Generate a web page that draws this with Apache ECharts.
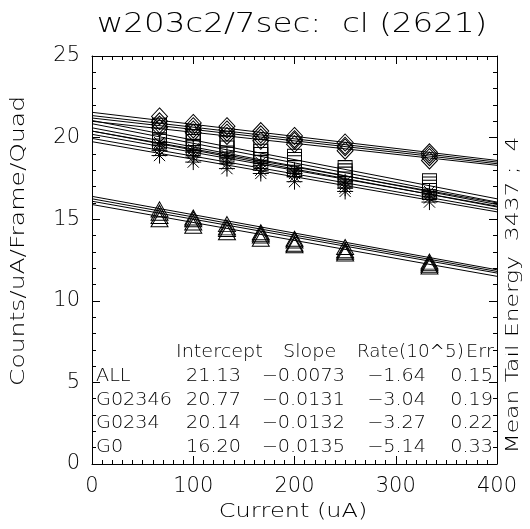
<!DOCTYPE html>
<html><head><meta charset="utf-8">
<script src="https://cdn.jsdelivr.net/npm/echarts@6/dist/echarts.min.js"></script>
<style>html,body{margin:0;padding:0;background:#fff}#c{width:530px;height:529px}</style>
</head><body><div id="c"></div>
<script>
// ---- data ----
const currents = [66.7, 100, 133.3, 166.7, 200, 250, 333.3];
const fitX = [0, 400];

const diamondVals = [
  [21.3, 20.9, 20.7, 20.4, 20.1, 19.7, 19.1],
  [21.0, 20.7, 20.5, 20.2, 19.9, 19.5, 18.95],
  [20.8, 20.5, 20.3, 20.0, 19.8, 19.4, 18.8],
  [20.6, 20.3, 20.1, 19.8, 19.6, 19.2, 18.6]
];
const diamondFits = [[21.55, 18.6], [21.35, 18.5], [21.2, 18.4], [21.0, 18.3]];

const squareVals = [
  [20.7, 20.3, 19.9, 19.4, 18.8, 18.1, 17.3],
  [20.4, 20.0, 19.6, 19.1, 18.6, 17.9, 17.1],
  [20.1, 19.7, 19.3, 18.9, 18.4, 17.7, 16.9],
  [19.8, 19.4, 19.0, 18.6, 18.1, 17.4, 16.7]
];
const squareFits = [[21.05, 16.25], [20.85, 16.05], [20.6, 15.9], [20.4, 15.75]];

const starVals = [
  [19.7, 19.3, 18.9, 18.5, 18.0, 17.3, 16.7],
  [19.5, 19.1, 18.7, 18.3, 17.8, 17.1, 16.5],
  [19.2, 18.8, 18.4, 18.0, 17.6, 16.9, 16.3],
  [18.9, 18.5, 18.1, 17.8, 17.3, 16.7, 16.05]
];
const starFits = [[20.4, 16.0], [20.2, 15.8], [19.95, 15.6], [19.75, 15.45]];

const triVals = [
  [15.6, 15.1, 14.7, 14.2, 13.8, 13.3, 12.4],
  [15.4, 15.0, 14.5, 14.1, 13.7, 13.1, 12.3],
  [15.2, 14.8, 14.4, 14.0, 13.5, 13.0, 12.2],
  [15.0, 14.6, 14.2, 13.8, 13.4, 12.9, 12.1]
];
const triFits = [[16.4, 11.9], [16.25, 11.8], [16.1, 11.7], [15.9, 11.5]];

const xTicks = [0, 100, 200, 300, 400];
const yTicks = [0, 5, 10, 15, 20, 25];

const tableHeader = ['Intercept', 'Slope', 'Rate(10^5)', 'Err'];
const rowNames = ['ALL', 'G02346', 'G0234', 'G0'];
const intercepts = ['21.13', '20.77', '20.14', '16.20'];
const slopes = ['\u22120.0073', '\u22120.0131', '\u22120.0132', '\u22120.0135'];
const rates = ['\u22121.64', '\u22123.04', '\u22123.27', '\u22125.14'];
const errs = ['0.15', '0.19', '0.22', '0.33'];

const titleText = 'w203c2/7sec:  cl (2621)';
const xName = 'Current (uA)';
const yName = 'Counts/uA/Frame/Quad';
const rightText = 'Mean Tail Energy  3437 ;  4';

// ---- chart ----
const FONT = 'DejaVu Sans';
const W = '300';
const G = {left: 92, top: 56, width: 405, height: 408};
const starPath = 'path://M0,-10L0,10M-10,0L10,0M-7,-7L7,7M-7,7L7,-7';

const series = [];
function addGroup(vals, fits, symbol, size) {
  vals.forEach((v, i) => {
    series.push({
      type: 'line', data: currents.map((x, k) => [x, v[k]]),
      lineStyle: {width: 0, opacity: 0}, symbol: symbol, symbolSize: size,
      showSymbol: true, silent: true, animation: false, clip: false,
      itemStyle: {color: 'rgba(0,0,0,0)', borderColor: '#000', borderWidth: 1}
    });
    series.push({
      type: 'line', data: fitX.map((x, k) => [x, fits[i][k]]),
      showSymbol: false, symbol: 'none', silent: true, animation: false,
      lineStyle: {color: '#000', width: 1}
    });
  });
}
addGroup(diamondVals, diamondFits, 'diamond', [16, 17]);
addGroup(squareVals, squareFits, 'rect', [14, 16]);
addGroup(starVals, starFits, starPath, [16, 16]);
addGroup(triVals, triFits, 'triangle', [17, 15]);

function axisStyle(o, minorSplit) {
  return Object.assign({
    axisLine: {onZero: false, lineStyle: {color: '#000', width: 1}},
    splitLine: {show: false},
    axisTick: {inside: true, length: 8, lineStyle: {color: '#000'}},
    minorTick: {show: true, splitNumber: minorSplit, length: 4, lineStyle: {color: '#000'}}
  }, o);
}

function txt(text, x, y, size, sx, extra) {
  return {type: 'text', x: x, y: y, scaleX: sx, silent: true, z: 100,
    style: Object.assign({text: text, font: W + ' ' + size + 'px "' + FONT + '"', fill: '#000', verticalAlign: 'middle'}, extra || {})};
}

const graphics = [];
graphics.push(txt(titleText, 292, 25, 26, 1.25, {align: 'center'}));
graphics.push(txt(xName, 293, 512, 20, 1.2, {align: 'center'}));
graphics.push(Object.assign(txt(yName, 19, 241, 20, 1.25, {align: 'center'}), {rotation: Math.PI / 2}));
graphics.push(Object.assign(txt(rightText, 513, 295, 18, 1.3, {align: 'center'}), {rotation: Math.PI / 2}));

const hdrX = [176, 283, 357, 466];
const hdrScale = [1.13, 1.13, 1.08, 1.13];
tableHeader.forEach((h, i) => graphics.push(txt(h, hdrX[i], 353, 17, hdrScale[i])));
// white mask clipping the header text at the plot frame
graphics.push({type: 'rect', z: 101, silent: true, shape: {x: 498, y: 342, width: 7, height: 22}, style: {fill: '#fff'}});
const colRight = [241, 345, 426, 493];
rowNames.forEach((n, r) => {
  const y = 377 + r * 23.5;
  graphics.push(txt(n, 96, y, 17, 1.13));
  [intercepts[r], slopes[r], rates[r], errs[r]].forEach((t, c) =>
    graphics.push(txt(t, colRight[c], y, 17, 1.13, {align: 'right'})));
});

const labelStyle = {fontFamily: FONT, fontSize: 21, fontWeight: W, color: '#000', margin: 12};
const chart = echarts.init(document.getElementById('c'), null, {renderer: 'canvas'});
chart.setOption({
  backgroundColor: '#fff',
  animation: false,
  grid: G,
  xAxis: [
    axisStyle({type: 'value', position: 'bottom', min: xTicks[0], max: xTicks[xTicks.length - 1], interval: 100,
      axisLabel: labelStyle}, 10),
    axisStyle({type: 'value', position: 'top', min: 0, max: 400, interval: 100, axisLabel: {show: false}}, 10)
  ],
  yAxis: [
    axisStyle({type: 'value', position: 'left', min: yTicks[0], max: yTicks[yTicks.length - 1], interval: 5,
      axisLabel: labelStyle}, 5),
    axisStyle({type: 'value', position: 'right', min: 0, max: 25, interval: 5, axisLabel: {show: false}}, 5)
  ],
  graphic: graphics,
  series: series
});
</script></body></html>
